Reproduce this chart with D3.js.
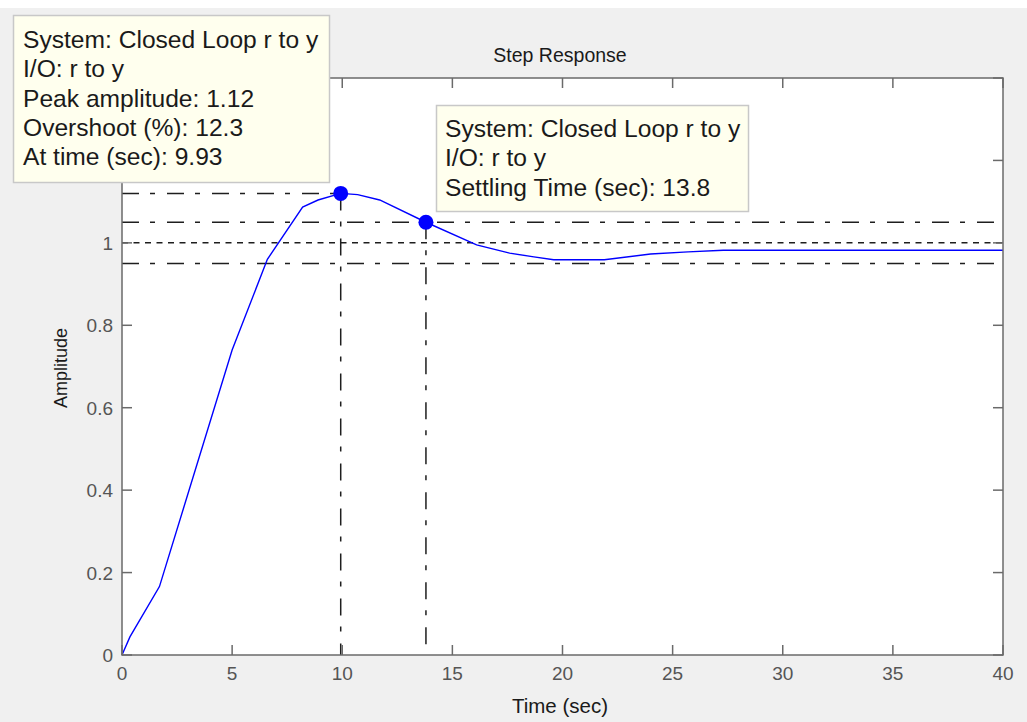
<!DOCTYPE html>
<html>
<head>
<meta charset="utf-8">
<script src="https://cdn.jsdelivr.net/npm/d3@7"></script>
<style>
  html, body { margin: 0; padding: 0; background: #f0f0f0; }
  svg { display: block; }
</style>
</head>
<body>
<script>
// Closed-loop step response r -> y
const timeSec   = [0, 0.36, 1.7, 5.0, 6.6, 8.2, 8.9, 9.93, 10.7, 11.7, 13.8, 16.1, 17.6, 18.7, 19.6, 21.9, 24.0, 25.7, 27.3, 40];
const amplitude = [0, 0.044, 0.166, 0.74, 0.96, 1.087, 1.104, 1.12, 1.117, 1.104, 1.05, 0.995, 0.975, 0.966, 0.959, 0.959, 0.973, 0.978, 0.982, 0.982];

const xTicks = [0, 5, 10, 15, 20, 25, 30, 35, 40];
const yTicks = [0, 0.2, 0.4, 0.6, 0.8, 1, 1.2, 1.4];
// the upper tick labels sit beneath the peak data tip, so only these are written
const yTickLabels = [0, 0.2, 0.4, 0.6, 0.8, 1];

const peakTime = 9.93, peakAmp = 1.12;
const settleTime = 13.8, settleAmp = 1.05;
const finalValue = 1.0;
const settleBand = [0.95, 1.05];

const peakInfo = ["System: Closed Loop r to y", "I/O: r to y", "Peak amplitude: 1.12", "Overshoot (%): 12.3", "At time (sec): 9.93"];
const settleInfo = ["System: Closed Loop r to y", "I/O: r to y", "Settling Time (sec): 13.8"];

const W = 1027, H = 722;
const m = { left: 122, right: 1003, top: 78, bottom: 655 };
const FONT = "'Liberation Sans', Arial, sans-serif";

const svg = d3.select("body").append("svg").attr("width", W).attr("height", H);
svg.append("rect").attr("width", W).attr("height", H).attr("fill", "#f0f0f0");
svg.append("rect").attr("width", W).attr("height", 8).attr("fill", "#ffffff");

const x = d3.scaleLinear().domain([0, 40]).range([m.left, m.right]);
const y = d3.scaleLinear().domain([0, 1.4]).range([m.bottom, m.top]);

// plot area
svg.append("rect").attr("x", m.left).attr("y", m.top)
  .attr("width", m.right - m.left).attr("height", m.bottom - m.top)
  .attr("fill", "#ffffff");

// reference lines
const dashDot = "17,11,5,12";
const ref = svg.append("g").attr("stroke", "#1e1e1e").attr("stroke-width", 1.5).attr("fill", "none");
settleBand.forEach(v => {
  ref.append("line").attr("x1", x(0)).attr("x2", x(40)).attr("y1", y(v)).attr("y2", y(v))
    .attr("stroke-dasharray", dashDot);
});
ref.append("line").attr("x1", x(0)).attr("x2", x(40)).attr("y1", y(finalValue)).attr("y2", y(finalValue))
  .attr("stroke-dasharray", "6,5.5");
ref.append("line").attr("x1", x(0)).attr("x2", x(peakTime)).attr("y1", y(peakAmp)).attr("y2", y(peakAmp))
  .attr("stroke-dasharray", dashDot);
ref.append("line").attr("x1", x(peakTime)).attr("x2", x(peakTime)).attr("y1", y(peakAmp)).attr("y2", y(0))
  .attr("stroke-dasharray", dashDot);
ref.append("line").attr("x1", x(settleTime)).attr("x2", x(settleTime)).attr("y1", y(settleAmp)).attr("y2", y(0))
  .attr("stroke-dasharray", dashDot);

// response curve
const pts = timeSec.map((t, i) => [t, amplitude[i]]);
svg.append("path").datum(pts)
  .attr("d", d3.line().x(d => x(d[0])).y(d => y(d[1])))
  .attr("fill", "none").attr("stroke", "#0000ff").attr("stroke-width", 1.4);

// characteristic markers
svg.selectAll("circle.mk").data([[peakTime, peakAmp], [settleTime, settleAmp]]).enter()
  .append("circle").attr("class", "mk")
  .attr("cx", d => x(d[0])).attr("cy", d => y(d[1])).attr("r", 7.5)
  .attr("fill", "#0000ff");

// axes box with inward ticks on all sides
const tickLen = 10;
const axisColor = "#6a6a6a";
const axes = svg.append("g").attr("stroke", axisColor).attr("stroke-width", 1.5);
axes.append("rect").attr("x", m.left).attr("y", m.top)
  .attr("width", m.right - m.left).attr("height", m.bottom - m.top).attr("fill", "none");
xTicks.forEach(t => {
  axes.append("line").attr("x1", x(t)).attr("x2", x(t)).attr("y1", m.bottom).attr("y2", m.bottom - tickLen);
  axes.append("line").attr("x1", x(t)).attr("x2", x(t)).attr("y1", m.top).attr("y2", m.top + tickLen);
});
yTicks.forEach(v => {
  axes.append("line").attr("y1", y(v)).attr("y2", y(v)).attr("x1", m.left).attr("x2", m.left + tickLen);
  axes.append("line").attr("y1", y(v)).attr("y2", y(v)).attr("x1", m.right).attr("x2", m.right - tickLen);
});

const fmt = d3.format("~f");
const tickColor = "#555555";
svg.append("g").selectAll("text").data(xTicks).enter().append("text")
  .attr("x", d => x(d)).attr("y", 680)
  .attr("text-anchor", "middle").attr("font-family", FONT).attr("font-size", 19)
  .attr("fill", tickColor).text(d => fmt(d));
svg.append("g").selectAll("text").data(yTickLabels).enter().append("text")
  .attr("x", 113).attr("y", d => y(d) + 7)
  .attr("text-anchor", "end").attr("font-family", FONT).attr("font-size", 19)
  .attr("fill", tickColor).text(d => fmt(d));

// titles
svg.append("text").attr("x", 560).attr("y", 62).attr("text-anchor", "middle")
  .attr("font-family", FONT).attr("font-size", 19.5).attr("fill", "#1a1a1a").text("Step Response");
svg.append("text").attr("x", 560).attr("y", 713).attr("text-anchor", "middle")
  .attr("font-family", FONT).attr("font-size", 20.5).attr("fill", "#1a1a1a").text("Time (sec)");
svg.append("text").attr("transform", "translate(67,368) rotate(-90)").attr("text-anchor", "middle")
  .attr("font-family", FONT).attr("font-size", 18).attr("fill", "#1a1a1a").text("Amplitude");

// data tips
function dataTip(bx, by, bw, bh, tx, ty, lines) {
  const g = svg.append("g");
  g.append("rect").attr("x", bx).attr("y", by).attr("width", bw).attr("height", bh)
    .attr("fill", "#ffffee").attr("stroke", "#c8c8c8").attr("stroke-width", 1.5);
  g.selectAll("text").data(lines).enter().append("text")
    .attr("x", tx).attr("y", (d, i) => ty + i * 29.3)
    .attr("font-family", FONT).attr("font-size", 24.6).attr("fill", "#1a1a1a").text(d => d);
}
dataTip(13.5, 15.5, 316, 167, 23, 48, peakInfo);
dataTip(436.5, 105.5, 312, 106, 445, 137, settleInfo);
</script>
</body>
</html>
